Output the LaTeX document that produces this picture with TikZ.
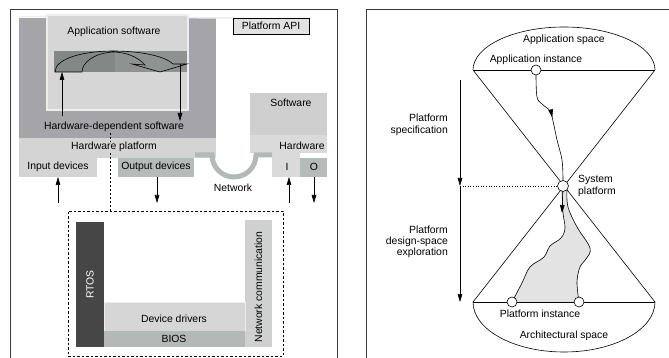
\documentclass[tikz,border=0pt]{standalone}
\usepackage{fontspec}
\setmainfont{Liberation Sans}
\usetikzlibrary{arrows.meta,decorations.markings,calc}

\definecolor{hwdep}{HTML}{A5A4A9}
\definecolor{appsw}{HTML}{D6D6D6}
\definecolor{appedge}{HTML}{EDEDED}
\definecolor{bandA}{HTML}{838886}
\definecolor{bandB}{HTML}{8E9290}
\definecolor{hwplat}{HTML}{D4D4D4}
\definecolor{outdev}{HTML}{B5BBB9}
\definecolor{netc}{HTML}{B2BAB8}
\definecolor{rtosc}{HTML}{464646}
\definecolor{swbox}{HTML}{CFCFCF}
\definecolor{hwbox}{HTML}{DADADA}
\definecolor{netcomm}{HTML}{CFD1D0}
\definecolor{drv}{HTML}{D6D6D6}
\definecolor{bios}{HTML}{B4B9B7}
\definecolor{apifill}{HTML}{E2E2E2}
\definecolor{framec}{HTML}{3A3A3A}
\definecolor{regionfill}{HTML}{E3E3E3}

\tikzset{
  block/.style={inner sep=0pt, outer sep=0pt, anchor=north west, draw=none},
  lbl/.style={font=\fontsize{10.4}{12}\selectfont, inner sep=0pt},
  arr/.style={-{Triangle[length=8pt,width=4.6pt]}, line width=0.6pt},
  thin line/.style={line width=0.6pt},
  frameline/.style={draw=framec, line width=0.8pt},
  instance/.style={circle, draw, fill=white, line width=0.6pt, minimum size=10pt, inner sep=0pt},
  netline/.style={draw=netc, line width=5pt},
  midarrow/.style={decoration={markings, mark=at position #1 with {\arrow{Triangle[length=8pt,width=4.6pt]}}}, postaction={decorate}}
}

\begin{document}
\begin{tikzpicture}[x=1pt,y=-1pt]
\useasboundingbox (0,0) rectangle (669,358);

% ---------- panel frames ----------
\draw[frameline] (10,358) -- (10,9) -- (337,9) -- (337,358);
\draw[frameline] (366,358) -- (366,9) -- (669,9);

% ---------- embedded system stack ----------
\node[block, fill=hwdep, minimum width=197pt, minimum height=120pt] (hwdep) at (19,18) {};
\node[block, fill=apifill, draw=black, line width=0.7pt, minimum width=76pt, minimum height=16pt] (api) at (233,18) {};
\node[lbl] at (api.center) {Platform API};
\draw[draw=appedge, line width=1.5pt] (hwdep.north west) ++(0,-1.5) -- (api.north west);

\node[block, fill=appsw, draw=appedge, line width=2pt, minimum width=141pt, minimum height=95pt] (appsw) at (47,15) {};
\node[lbl] at (114,32) {Application software};

\node[block, fill=bandA, minimum width=61pt, minimum height=21pt] (bandL) at (54,51) {};
\node[block, fill=bandB, minimum width=72pt, minimum height=21pt] (bandR) at (115,51) {};

% hollow curved arrow inside the band
\draw[thin line] (55,72) .. controls (55,58) and (85,51) .. (113,51)
  .. controls (140,51) and (165,56) .. (173,64) -- (187,64) -- (160,72) -- (132,64) -- (145,65)
  .. controls (138,57) and (126,52) .. (113,52)
  .. controls (95,53) and (82,62) .. (82,72) -- cycle;

\coordinate (upA) at (62,116);
\coordinate (dnA) at (180,64);
\draw[arr] (upA) -- (upA |- bandL.south);
\draw[arr] (dnA) -- (180,121);
\node[lbl] (hds) at (114,127) {Hardware-dependent software};

\node[block, fill=hwplat, minimum width=197pt, minimum height=20pt] (hwplat) at (19,138) {};
\draw[thin line, dashed, dash pattern=on 2pt off 2pt] (110,133) -- (110,211);
\node[lbl, fill=hwplat] at (114,147) {Hardware platform};

\node[block, fill=hwplat, minimum width=78pt, minimum height=19pt] (indev) at (19,158) {};
\node[lbl] at (58,167) {Input devices};
\node[block, fill=outdev, minimum width=76pt, minimum height=19pt] (outdev) at (118,158) {};
\node[lbl] at (156,167) {Output devices};

% second node: software / hardware with I/O
\node[block, fill=swbox, minimum width=77pt, minimum height=42pt] (sw) at (250,93) {};
\node[lbl] at (291,103) {Software};
\node[block, fill=hwbox, minimum width=77pt, minimum height=18pt] (hw) at (250,135) {};
\node[lbl] at (302,146) {Hardware};
\node[block, fill=hwbox, minimum width=28pt, minimum height=24pt] (iport) at (272,153) {};
\node[block, fill=outdev, minimum width=27pt, minimum height=19pt] (oport) at (300,158) {};
\node[lbl] at (287,167) {I};
\node[lbl] at (314,167) {O};

% network link between the two nodes
\coordinate (netL) at (195,155);
\coordinate (netR) at (272,155);
\draw[netline] (netL) -- (212,155) arc[start angle=180, end angle=360, radius=22pt] -- (netR);
\node[lbl] at (233,188) {Network};

% device arrows
\coordinate (inS) at (58,203);
\coordinate (outS) at (157,203);
\coordinate (iS) at (289,203);
\coordinate (oS) at (314,203);
\draw[arr] (inS) -- (inS |- indev.south);
\draw[arr] (outS |- outdev.south) -- (outS);
\draw[arr] (iS) -- (iS |- iport.south);
\draw[arr] (oS |- oport.south) -- (oS);

% hardware-dependent software detail
\node[block, draw=black, thin line, dashed, dash pattern=on 2.5pt off 2pt, minimum width=215pt, minimum height=145pt] (hdsbox) at (68,211) {};
\node[block, fill=rtosc, minimum width=28pt, minimum height=125pt] (rtos) at (76,222) {};
\node[lbl, rotate=90, text=white] at (rtos.center) {RTOS};
\node[block, fill=netcomm, minimum width=27pt, minimum height=127pt] (ncomm) at (245,220) {};
\node[lbl, rotate=90] at (258.5,287) {Network communication};
\node[block, fill=drv, draw=appedge, line width=0.8pt, minimum width=141pt, minimum height=29pt] (drv) at (104,302) {};
\node[lbl] at (174,319) {Device drivers};
\node[block, fill=bios, minimum width=141pt, minimum height=16pt] (bios) at (104,331) {};
\node[lbl] at (174,339) {BIOS};

% ---------- platform-based design hourglass ----------
\coordinate (tl) at (473,70);
\coordinate (tr) at (655,70);
\coordinate (bl) at (473,302);
\coordinate (br) at (655,302);

\fill[regionfill] plot[smooth, tension=0.6] coordinates {(562,190) (563,213) (565,228) (561,238) (550,246) (544,257) (530,267) (522,283) (512,302)}
  -- plot[smooth, tension=0.6] coordinates {(579,302) (577,282) (580,267) (586,259) (590,248) (577,227) (568,207) (567,190)} -- cycle;
\draw[thin line] plot[smooth, tension=0.6] coordinates {(562,190) (563,213) (565,228) (561,238) (550,246) (544,257) (530,267) (522,283) (512,302)};
\draw[thin line] plot[smooth, tension=0.6] coordinates {(567,190) (568,207) (577,227) (590,248) (586,259) (580,267) (577,282) (579,302)};

\draw[thin line] (tl) arc[start angle=180, end angle=0, x radius=91pt, y radius=43pt];
\draw[thin line] (bl) arc[start angle=180, end angle=360, x radius=91pt, y radius=50pt];
\draw[thin line] (tl) -- (tr);
\draw[thin line] (bl) -- (br);
\draw[thin line] (tl) -- (br);
\draw[thin line] (tr) -- (bl);

\node[lbl] at (564,40) {Application space};
\node[lbl] at (536,60) {Application instance};
\node[lbl] at (540,314) {Platform instance};
\node[lbl] at (564,336) {Architectural space};

\node[instance] (ai) at (536,70) {};
\node[instance, minimum size=11pt] (sp) at (563,186) {};
\node[instance] (pi1) at (512,302) {};
\node[instance] (pi2) at (579,302) {};

\draw[thin line, midarrow=0.43] plot[smooth, tension=0.6] coordinates {(536,75) (537,97) (542,104) (550,111) (553,121) (557,140) (562,160) (563,180.5)};
\coordinate (spa) at (562,213);
\draw[arr] (sp) -- (spa);

\node[lbl, anchor=west, align=left] at (578,186) {System\\platform};

% flow of the design process
\coordinate (ps0) at (460,80);
\coordinate (ps1) at (460,186);
\coordinate (ps2) at (460,302);
\draw[arr] (ps0) -- (ps1);
\draw[arr] (ps1) -- (ps2);
\draw[thin line, dotted] (ps1) -- (sp.west);
\node[lbl, anchor=east, align=right] at (448,125) {Platform\\specification};
\node[lbl, anchor=east, align=right, font=\fontsize{10.4}{11}\selectfont] at (448,242) {Platform\\design-space\\exploration};
\end{tikzpicture}
\end{document}
